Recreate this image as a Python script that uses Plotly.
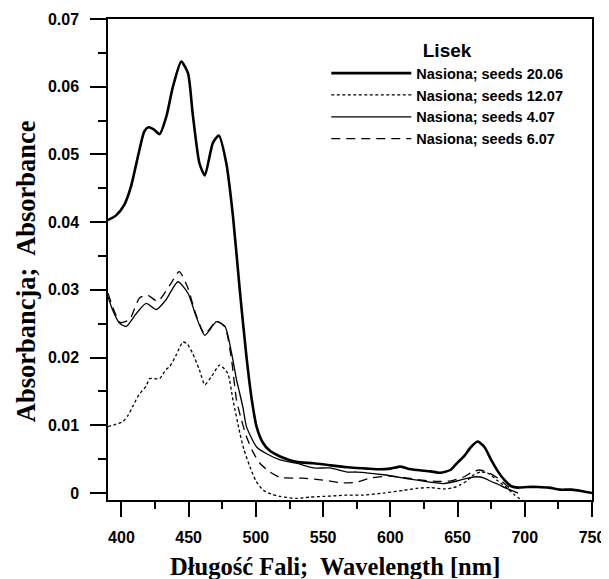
import plotly.graph_objects as go

# ---- data ----
x_2006 = [390, 396, 402, 407, 413.4, 417, 420, 424, 428.4, 433.4, 438.3, 444.5, 449.5, 453, 458, 462, 468,
          472.4, 478, 483, 488, 493, 497, 500.5, 505, 510, 518, 530, 543, 555, 568, 575, 583, 592, 600,
          607.5, 613, 620, 630, 637, 644.7, 650, 654.7, 660, 665, 670, 675, 680, 685, 690, 695, 702, 710,
          718, 726, 735, 742, 750]
y_2006 = [0.0403, 0.041, 0.0425, 0.0452, 0.0507, 0.0534, 0.054, 0.0537, 0.053, 0.0556, 0.060, 0.0637, 0.062,
          0.056, 0.0487, 0.0469, 0.0517, 0.0528, 0.0487, 0.0408, 0.030, 0.0201, 0.0137, 0.0098, 0.0075,
          0.0063, 0.0054, 0.0046, 0.0044, 0.0041, 0.0038, 0.0037, 0.0036, 0.0035, 0.0036, 0.0039, 0.0036,
          0.0034, 0.0032, 0.0030, 0.0034, 0.0045, 0.0054, 0.0068, 0.0076, 0.0068, 0.0049, 0.0032, 0.0019,
          0.0010, 0.0008, 0.0009, 0.0009, 0.0008, 0.0005, 0.0005, 0.0003, 0.0]

x_1207 = [390, 395, 400.8, 405, 408.4, 413, 418.4, 421, 428.4, 433, 436, 441, 445.7, 449, 453, 458, 462, 467,
          473, 479, 483, 488, 491, 495.5, 500, 505.5, 512, 518, 530, 540, 550, 560, 567.7, 580, 595, 610,
          620, 630, 640, 647, 652, 657, 662, 667, 672, 680, 687, 692, 696, 699]
y_1207 = [0.0098, 0.0101, 0.0105, 0.0115, 0.0128, 0.0145, 0.0158, 0.0169, 0.0169, 0.0182, 0.0187, 0.0205,
          0.0223, 0.0220, 0.0206, 0.0182, 0.0160, 0.0172, 0.0189, 0.0177, 0.0137, 0.0089, 0.0065, 0.0039,
          0.0018, 0.0004, -0.0002, -0.0005, -0.0008, -0.0006, -0.0005, -0.0004, -0.0003, -0.0003, 0.0,
          0.0004, 0.0007, 0.0008, 0.0006, 0.0008, 0.0012, 0.0018, 0.0027, 0.0031, 0.0030, 0.0018, 0.0007,
          -0.0002, -0.0008, -0.0012]

x_0407 = [390, 393.5, 398.5, 403.5, 411, 418.4, 426, 433, 442, 449.5, 455.7, 462, 470.7, 477, 482, 485.6, 488,
          490.5, 493, 500.5, 508, 518, 530, 543, 555, 568, 575, 595, 620, 640, 652, 658, 664, 670, 675, 680,
          685, 690, 695]
y_0407 = [0.029, 0.027, 0.0251, 0.0246, 0.0265, 0.028, 0.0271, 0.0285, 0.0312, 0.0295, 0.026, 0.0233, 0.0253,
          0.0246, 0.0206, 0.0167, 0.0147, 0.0125, 0.0098, 0.0068, 0.0058, 0.0049, 0.0044, 0.0037, 0.0037,
          0.0031, 0.0031, 0.0027, 0.0019, 0.0014, 0.0019, 0.0022, 0.0024, 0.0022, 0.0017, 0.0013, 0.0008,
          0.0004, 0.0]

x_0607 = [390, 394, 399, 406, 413.4, 419.6, 427, 436, 443, 449, 455.7, 462, 470.7, 477, 482, 485.6, 489, 493,
          498, 503, 510.5, 518, 535, 550, 565, 575, 585, 600, 620, 635, 645, 655, 660, 666, 672, 680, 686, 692]
y_0607 = [0.0295, 0.0272, 0.0252, 0.0256, 0.0288, 0.0292, 0.0283, 0.0307, 0.0327, 0.0305, 0.0262, 0.0235,
          0.0254, 0.0245, 0.0195, 0.0137, 0.0110, 0.0083, 0.0060, 0.0044, 0.0031, 0.0023, 0.0022, 0.0019,
          0.0015, 0.0016, 0.0022, 0.0025, 0.0020, 0.0017, 0.0018, 0.0024, 0.0030, 0.0034, 0.0031, 0.0022,
          0.0012, 0.0003]

names = ["Nasiona; seeds 20.06", "Nasiona; seeds 12.07", "Nasiona; seeds 4.07", "Nasiona; seeds 6.07"]
x_ticks = [400, 450, 500, 550, 600, 650, 700, 750]
y_ticks = [0, 0.01, 0.02, 0.03, 0.04, 0.05, 0.06, 0.07]
y_tick_text = ["0", "0.01", "0.02", "0.03", "0.04", "0.05", "0.06", "0.07"]
x_title = "Długość Fali;  Wavelength [nm]"
y_title = "Absorbancja;  Absorbance"

series = [
    (x_2006, y_2006, dict(color="black", width=2.6)),
    (x_1207, y_1207, dict(color="black", width=1.3, dash="3px,2.5px")),
    (x_0407, y_0407, dict(color="black", width=1.3)),
    (x_0607, y_0607, dict(color="black", width=1.3, dash="9px,6px")),
]

fig = go.Figure()
for (xs, ys, ln), nm in zip(series, names):
    ln = dict(ln, shape="spline", smoothing=0.6)
    fig.add_trace(go.Scatter(x=xs, y=ys, mode="lines", name=nm, line=ln))

tick_font = dict(family="Liberation Sans, Arial", size=16, color="black", weight="bold")
serif = "Liberation Serif, Times New Roman"

# the page adds an 8px body margin, so the figure is 8px smaller
fig.update_layout(
    width=601, height=571,
    margin=dict(l=100, r=17, t=11, b=79, autoexpand=False),
    paper_bgcolor="white", plot_bgcolor="white",
    showlegend=True,
    legend=dict(
        x=0.451, y=0.972, xanchor="left", yanchor="top",
        bgcolor="rgba(0,0,0,0)", borderwidth=0,
        font=dict(family="Liberation Sans, Arial", size=14.5, color="black", weight="bold"),
        title=dict(text="Lisek", side="top center",
                   font=dict(family="Liberation Sans, Arial", size=19, color="black", weight="bold")),
        itemwidth=80, tracegroupgap=0,
    ),
    xaxis=dict(
        range=[390, 750], tickvals=x_ticks, ticks="outside", ticklen=15, tickwidth=1.5, tickcolor="black",
        minor=dict(dtick=25, tick0=400, ticks="outside", ticklen=7, tickwidth=1.5, tickcolor="black"),
        showline=True, linewidth=1.5, linecolor="black", mirror=True, showgrid=False, zeroline=False,
        tickfont=tick_font, ticklabelstandoff=7,
    ),
    yaxis=dict(
        range=[-0.00103, 0.07], tickvals=y_ticks, ticktext=y_tick_text, ticks="outside", ticklen=16,
        tickwidth=1.5, tickcolor="black",
        minor=dict(dtick=0.005, tick0=0, ticks="outside", ticklen=8, tickwidth=1.5, tickcolor="black"),
        showline=True, linewidth=1.5, linecolor="black", mirror=True, showgrid=False, zeroline=False,
        tickfont=tick_font, ticklabelstandoff=8,
    ),
    annotations=[
        dict(text=x_title, xref="paper", yref="paper", x=0.469, y=-0.139, xanchor="center", yanchor="middle",
             showarrow=False, font=dict(family=serif, size=24.5, color="black", weight="bold")),
        dict(text=y_title, xref="paper", yref="paper", x=-0.17, y=0.475, xanchor="center", yanchor="middle",
             textangle=-90, showarrow=False, font=dict(family=serif, size=26.5, color="black", weight="bold")),
    ],
)

fig.write_html("out.html")
